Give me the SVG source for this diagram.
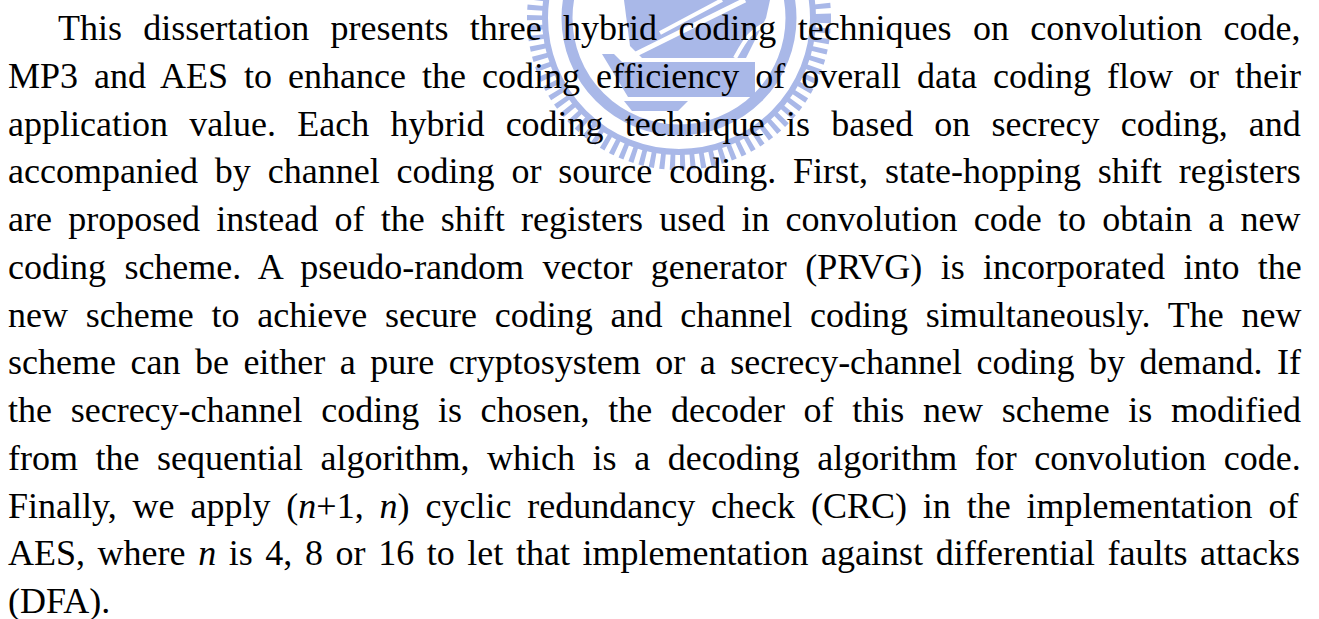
<svg xmlns="http://www.w3.org/2000/svg" width="1319" height="619" viewBox="0 0 1319 619">
  <style>
    .wm { fill: #a9b8e8; }
    .wm-ring { fill: none; stroke: #a9b8e8; }
    .gap { stroke: #ffffff; fill: none; }
    .body { font-family: "Liberation Serif", "Times New Roman", serif; font-size: 36px; fill: #000000; }
    .it { font-style: italic; }
  </style>

  <rect width="1319" height="619" fill="#ffffff"/>

  <!-- faint university seal behind the text -->
  <g id="seal">
    <circle class="wm-ring" cx="679" cy="18" r="112" stroke-width="11"/>
    <circle class="wm-ring" cx="679" cy="18" r="134" stroke-width="6"/>
    <circle class="wm-ring" cx="679" cy="18" r="144" stroke-width="16" stroke-dasharray="5 5"/>
    <!-- torch / book emblem -->
    <path class="wm" d="M624,0 L770,0 L766,18 L756,38 L746,58 L642,58 L630,46 Z"/>
    <path class="gap" d="M628,58 L745,0" stroke-width="5"/>
    <path class="gap" d="M660,33 L722,0" stroke-width="4"/>
    <path class="gap" d="M735,58 C 745,40 750,30 770,22" stroke-width="4"/>
    <path class="wm" d="M602,54 L614,54 L622,62 L755,62 L755,97 L628,97 Z"/>
    <path class="wm" d="M624,101 L688,101 L678,111 L632,111 Z"/>
  </g>

  <!-- abstract paragraph, fully justified -->
  <g id="abstract" class="body">
    <text x="58" y="40" word-spacing="12.3">This dissertation presents three hybrid coding techniques on convolution code,</text>
    <text x="8" y="87.8" word-spacing="7.0">MP3 and AES to enhance the coding efficiency of overall data coding flow or their</text>
    <text x="8" y="135.5" word-spacing="12.2">application value. Each hybrid coding technique is based on secrecy coding, and</text>
    <text x="8" y="183.3" word-spacing="7.9">accompanied by channel coding or source coding. First, state-hopping shift registers</text>
    <text x="8" y="231" word-spacing="7.2">are proposed instead of the shift registers used in convolution code to obtain a new</text>
    <text x="8" y="278.8" word-spacing="9.4">coding scheme. A pseudo-random vector generator (PRVG) is incorporated into the</text>
    <text x="8" y="326.5" word-spacing="8.8">new scheme to achieve secure coding and channel coding simultaneously. The new</text>
    <text x="8" y="374.3" word-spacing="5.5">scheme can be either a pure cryptosystem or a secrecy-channel coding by demand. If</text>
    <text x="8" y="422" word-spacing="9.7">the secrecy-channel coding is chosen, the decoder of this new scheme is modified</text>
    <text x="8" y="469.8" word-spacing="8.55">from the sequential algorithm, which is a decoding algorithm for convolution code.</text>
    <text x="8" y="517.5" word-spacing="6.9">Finally, we apply (<tspan class="it">n</tspan>+1, <tspan class="it">n</tspan>) cyclic redundancy check (CRC) in the implementation of</text>
    <text x="8" y="565.3" word-spacing="3.6">AES, where <tspan class="it">n</tspan> is 4, 8 or 16 to let that implementation against differential faults attacks</text>
    <text x="8" y="613">(DFA).</text>
  </g>
</svg>
